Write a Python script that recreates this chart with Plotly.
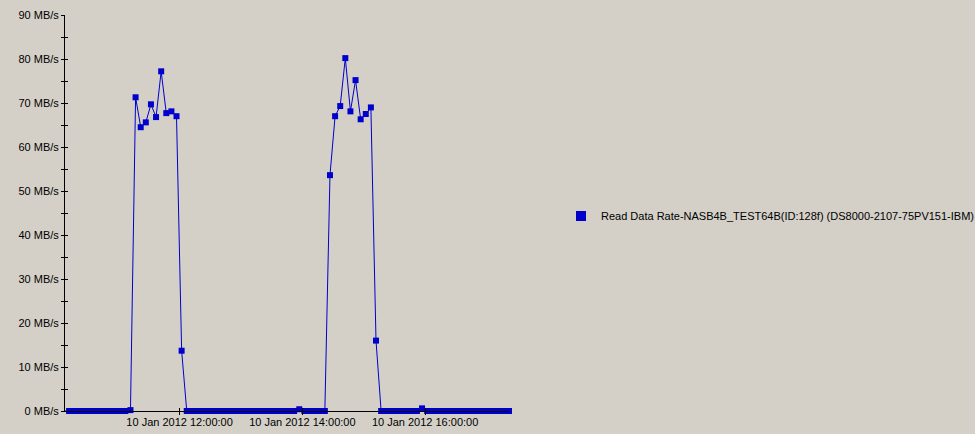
import plotly.graph_objects as go
import pandas as pd

# ---- data ----
start_time = "2012-01-10 10:07"
step_minutes = 5
read_rate_mbs = [
    0, 0, 0, 0, 0, 0, 0, 0, 0, 0, 0, 0, 0, 0.2,          # 10:07 - 11:12
    71.3, 64.5, 65.6, 69.7, 66.8, 77.2, 67.7, 68.1, 67.0,  # 11:17 - 11:57
    13.7, 0,                                              # 12:02 - 12:07
    0, 0, 0, 0, 0, 0, 0, 0, 0, 0, 0, 0, 0, 0, 0, 0, 0, 0, 0, 0, 0,  # 12:12 - 13:52
    0.4, 0, 0, 0, 0, 0,                                   # 13:57 - 14:22
    53.6, 67.0, 69.3, 80.2, 68.1, 75.2, 66.3, 67.5, 69.0,  # 14:27 - 15:07
    16.0, 0,                                              # 15:12 - 15:17
    0, 0, 0, 0, 0, 0, 0, 0.6,                             # 15:22 - 15:57
    0, 0, 0, 0, 0, 0, 0, 0, 0, 0, 0, 0, 0, 0, 0, 0, 0,    # 16:02 - 17:22
]
times = pd.date_range(start_time, periods=len(read_rate_mbs), freq=f"{step_minutes}min")
series_name = "Read Data Rate-NASB4B_TEST64B(ID:128f) (DS8000-2107-75PV151-IBM)"
y_ticks = list(range(0, 91, 10))
y_tick_labels = [f"{v} MB/s" for v in y_ticks]

# ---- style ----
BG = "#D4D0C8"
BLUE = "#0000CC"
FONT = dict(family="Liberation Sans", size=11, color="#000000")

fig = go.Figure()
fig.add_trace(go.Scatter(
    x=times, y=read_rate_mbs, mode="lines+markers",
    line=dict(color=BLUE, width=1),
    marker=dict(symbol="square", size=6, color=BLUE, line=dict(width=0)),
    cliponaxis=False, showlegend=False, name=series_name,
))
fig.add_trace(go.Scatter(
    x=[None], y=[None], mode="markers", name=series_name,
    marker=dict(symbol="square", size=10, color=BLUE, line=dict(width=0)),
))

xr = ["2012-01-10 10:08", "2012-01-10 17:22"]
common_x = dict(type="date", range=xr, tick0="2012-01-10 12:00", dtick=2 * 3600 * 1000,
                showgrid=False, zeroline=False, ticklen=3, tickcolor="#000", tickwidth=1,
                automargin=False)
common_y = dict(range=[0, 90], tickvals=y_ticks, showgrid=False, zeroline=False,
                ticklen=3, tickcolor="#000", tickwidth=1, automargin=False)

fig.update_layout(
    width=975, height=434,
    margin=dict(l=65, r=466, t=15, b=23),
    paper_bgcolor=BG, plot_bgcolor=BG,
    font=FONT,
    xaxis=dict(**common_x, ticks="outside", tickformat="%d %b %Y %H:%M:%S",
               ticklabelstandoff=-2,
               showline=True, linecolor="#000", linewidth=1),
    xaxis2=dict(**common_x, ticks="inside", overlaying="x", showticklabels=False,
                showline=False, anchor="y"),
    yaxis=dict(**common_y, ticktext=y_tick_labels, ticks="outside",
               showline=True, linecolor="#000", linewidth=1,
               minor=dict(dtick=5, ticks="outside", ticklen=3, tickcolor="#000")),
    yaxis2=dict(**common_y, ticks="inside", overlaying="y", showticklabels=False,
                showline=False, anchor="x",
                minor=dict(dtick=5, ticks="inside", ticklen=3, tickcolor="#000")),
    legend=dict(xref="container", yref="container", x=561 / 975, y=1 - 216 / 434,
                xanchor="left", yanchor="middle", bgcolor="rgba(0,0,0,0)",
                borderwidth=0, font=FONT),
    hovermode=False,
)
# dummy trace to activate overlay axes
fig.add_trace(go.Scatter(x=[None], y=[None], xaxis="x2", yaxis="y2", showlegend=False))

fig.write_html(
    "out.html",
    config={"displayModeBar": False},
    post_script="document.body.style.margin='0';document.body.style.background='#D4D0C8';",
)
